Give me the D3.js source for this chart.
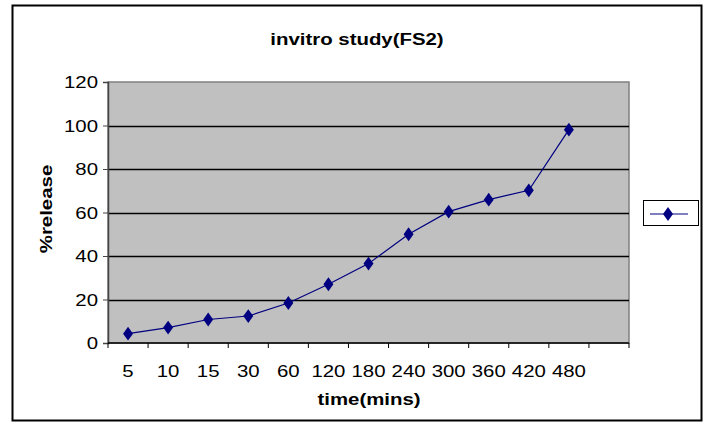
<!DOCTYPE html>
<html>
<head>
<meta charset="utf-8">
<script src="https://cdn.jsdelivr.net/npm/d3@7"></script>
<style>
  body { margin: 0; background: #fff; }
  svg text { font-family: "Liberation Sans", Arial, sans-serif; fill: #000; }
</style>
</head>
<body>
<div id="chart"></div>
<script>
// category labels (minutes) and % release
const times = ["5", "10", "15", "30", "60", "120", "180", "240", "300", "360", "420", "480"];
const release = [4.3, 7.1, 10.8, 12.4, 18.4, 27.0, 36.5, 50.0, 60.4, 65.9, 70.2, 98.1];
const yTicks = [0, 20, 40, 60, 80, 100, 120];

const width = 704, height = 422;
const plot = { left: 108, right: 629, top: 82, bottom: 343 };
const fs = 17, sx = 1.2;   // the original text is drawn a bit wide

const svg = d3.select("#chart").append("svg")
  .attr("width", width)
  .attr("height", height);

// put a horizontally stretched text at x,y
function wideText(parent, x, y, str, anchor, bold, rot) {
  const g = parent.append("g")
    .attr("transform", "translate(" + x + "," + y + ")" + (rot ? " rotate(" + rot + ")" : "") + " scale(" + sx + ",1)");
  g.append("text")
    .attr("text-anchor", anchor)
    .style("font-size", fs + "px")
    .style("font-weight", bold ? "bold" : "normal")
    .text(str);
  return g;
}

// outer chart border
svg.append("rect")
  .attr("x", 12.5).attr("y", 5.5)
  .attr("width", 689).attr("height", 415)
  .attr("fill", "#fff").attr("stroke", "#000").attr("stroke-width", 2);

// one empty slot after 480, like the original
const xScale = d3.scaleBand()
  .domain(times.concat([""]))
  .range([plot.left, plot.right]);

const yScale = d3.scaleLinear()
  .domain([0, 120])
  .range([plot.bottom, plot.top]);

// plot area
svg.append("rect")
  .attr("x", plot.left).attr("y", plot.top)
  .attr("width", plot.right - plot.left).attr("height", plot.bottom - plot.top)
  .attr("fill", "#c0c0c0").attr("stroke", "#808080").attr("stroke-width", 1.5);

// gridlines
svg.append("g").selectAll("line")
  .data(yTicks.filter(d => d > 0 && d < 120))
  .enter().append("line")
  .attr("x1", plot.left).attr("x2", plot.right)
  .attr("y1", d => Math.round(yScale(d)) + 0.5)
  .attr("y2", d => Math.round(yScale(d)) + 0.5)
  .attr("stroke", "#000").attr("stroke-width", 1.3);

// y axis (labels drawn separately so they can be widened)
const yAxis = d3.axisLeft(yScale).tickValues(yTicks).tickSize(5).tickFormat("");
const gy = svg.append("g")
  .attr("transform", "translate(" + plot.left + ",0)")
  .call(yAxis);
gy.select(".domain").attr("stroke", "#444").attr("stroke-width", 1.5);
gy.selectAll(".tick line").attr("stroke", "#444");
yTicks.forEach(v => wideText(svg, plot.left - 10, yScale(v) + 6, String(v), "end", false));

// x axis: ticks at band edges, labels at band centres
const gx = svg.append("g");
gx.append("line")
  .attr("x1", plot.left).attr("x2", plot.right)
  .attr("y1", plot.bottom).attr("y2", plot.bottom)
  .attr("stroke", "#000").attr("stroke-width", 1.5);
gx.selectAll("line.tk")
  .data(xScale.domain().concat(["end"]))
  .enter().append("line")
  .attr("class", "tk")
  .attr("x1", (d, i) => plot.left + i * xScale.step())
  .attr("x2", (d, i) => plot.left + i * xScale.step())
  .attr("y1", plot.bottom).attr("y2", plot.bottom + 5)
  .attr("stroke", "#000");
times.forEach(t => wideText(gx, xScale(t) + xScale.bandwidth() / 2, 377, t, "middle", false));

// series line + markers
const line = d3.line()
  .x((d, i) => xScale(times[i]) + xScale.bandwidth() / 2)
  .y(d => yScale(d));

svg.append("path")
  .datum(release)
  .attr("d", line)
  .attr("fill", "none")
  .attr("stroke", "#000080")
  .attr("stroke-width", 1.2);

const diamond = d3.symbol().type(d3.symbolDiamond).size(55);
svg.append("g").selectAll("path")
  .data(release)
  .enter().append("path")
  .attr("d", diamond)
  .attr("transform", (d, i) => "translate(" + (xScale(times[i]) + xScale.bandwidth() / 2) + "," + yScale(d) + ") scale(1.25,1)")
  .attr("fill", "#000080");

// titles
wideText(svg, 357, 45, "invitro study(FS2)", "middle", true);
wideText(svg, 369, 405, "time(mins)", "middle", true);
wideText(svg, 52, 209, "%release", "middle", true, -90);

// legend
const lg = svg.append("g");
lg.append("rect")
  .attr("x", 643.5).attr("y", 200.5)
  .attr("width", 55).attr("height", 25)
  .attr("fill", "#fff").attr("stroke", "#000");
lg.append("line")
  .attr("x1", 650).attr("x2", 688).attr("y1", 214).attr("y2", 214)
  .attr("stroke", "#000080").attr("stroke-width", 1.2);
lg.append("path")
  .attr("d", diamond)
  .attr("transform", "translate(668,214) scale(1.25,1)")
  .attr("fill", "#000080");
</script>
</body>
</html>
